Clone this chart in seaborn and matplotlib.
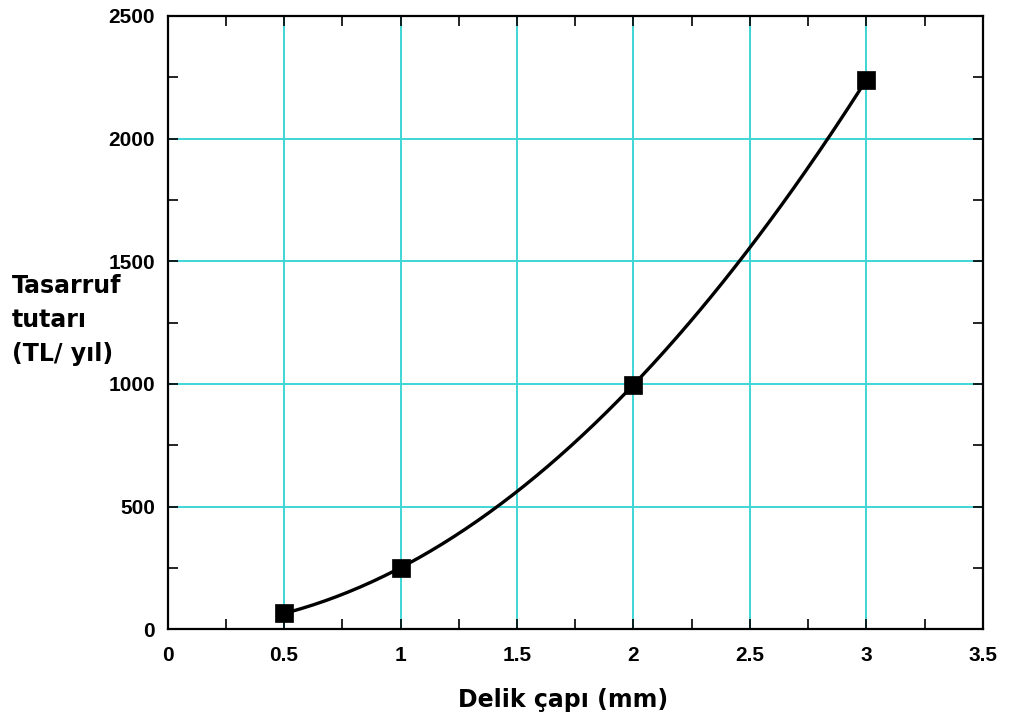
import numpy as np
import pandas as pd
import matplotlib
matplotlib.use("Agg")
import matplotlib.pyplot as plt
import seaborn as sns
from matplotlib.ticker import MultipleLocator

# Hole diameter (mm) and yearly savings (TL/yıl)
diameter = [0.5, 1.0, 2.0, 3.0]
savings = [65, 249, 997, 2239]

x_ticks = [0, 0.5, 1, 1.5, 2, 2.5, 3, 3.5]
x_tick_labels = ["0", "0.5", "1", "1.5", "2", "2.5", "3", "3.5"]
y_ticks = [0, 500, 1000, 1500, 2000, 2500]

sns.set_theme(style="white")
plt.rcParams["font.family"] = ["Liberation Sans", "DejaVu Sans"]
plt.rcParams["font.weight"] = "bold"
for key in ("text.color", "axes.labelcolor", "xtick.color", "ytick.color"):
    plt.rcParams[key] = "black"

points = pd.DataFrame({"d": diameter, "s": savings})

# Smooth trend through the measured points (least-squares quadratic)
coef = np.polyfit(diameter, savings, 2)
xs = np.linspace(min(diameter), max(diameter), 200)
curve = pd.DataFrame({"d": xs, "s": np.polyval(coef, xs)})

fig = plt.figure(figsize=(10.1, 7.24), dpi=100)
ax = fig.add_axes([0.166, 0.131, 0.807, 0.847])

grid_color = "#3fd6d6"
for xv in x_ticks[1:-1]:
    ax.axvline(xv, color=grid_color, lw=1.4, zorder=0)
for yv in y_ticks[1:-1]:
    ax.axhline(yv, color=grid_color, lw=1.4, zorder=0)

sns.lineplot(data=curve, x="d", y="s", ax=ax, color="black", lw=2.4, zorder=2)
sns.scatterplot(data=points, x="d", y="s", ax=ax, marker="s", s=150,
                color="black", edgecolor="black", linewidth=0.5, zorder=3)

ax.set_xlim(0, 3.5)
ax.set_ylim(0, 2500)
ax.set_xticks(x_ticks)
ax.set_yticks(y_ticks)
ax.set_xticklabels(x_tick_labels)
ax.set_yticklabels([str(v) for v in y_ticks])
ax.xaxis.set_minor_locator(MultipleLocator(0.25))
ax.yaxis.set_minor_locator(MultipleLocator(250))
ax.tick_params(which="both", direction="in", top=True, right=True,
               bottom=True, left=True, width=1.2, color="black")
ax.tick_params(which="major", length=7, labelsize=15)
ax.tick_params(axis="x", which="major", pad=12)
ax.tick_params(axis="y", which="major", pad=9)
ax.tick_params(which="minor", length=7)
for lbl in ax.get_xticklabels() + ax.get_yticklabels():
    lbl.set_fontweight("bold")

for sp in ax.spines.values():
    sp.set_color("black")
    sp.set_linewidth(1.6)

ax.set_xlabel("Delik çapı (mm)", fontsize=17, fontweight="bold",
              family="DejaVu Sans", labelpad=17)
ax.xaxis.label.set_x(0.485)
ax.set_ylabel("")
fig.text(0.012, 0.558, "Tasarruf\ntutarı\n(TL/ yıl)", fontsize=17,
         fontweight="bold", family="DejaVu Sans", ha="left", va="center",
         linespacing=1.55)

fig.savefig("out.png", dpi=100)
